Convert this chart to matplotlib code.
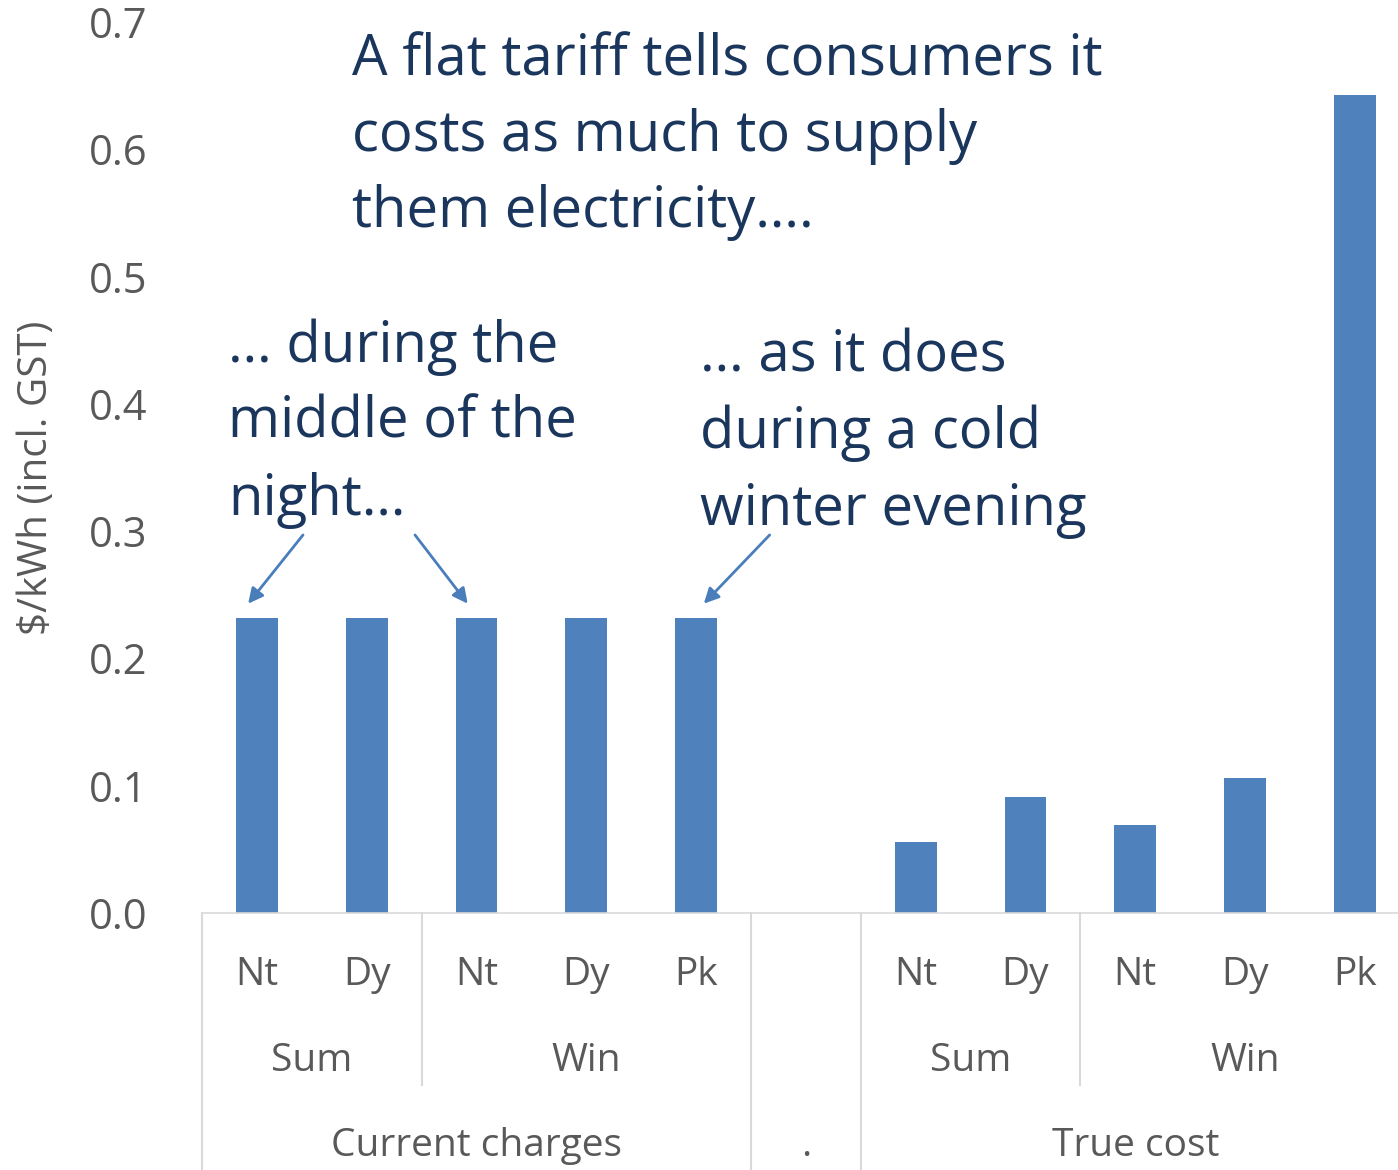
import matplotlib
matplotlib.use("Agg")
import matplotlib.pyplot as plt
import matplotlib.transforms as mtransforms
import numpy as np

# ---- data ----
periods = ["Nt", "Dy", "Nt", "Dy", "Pk", "", "Nt", "Dy", "Nt", "Dy", "Pk"]
seasons = ["Sum", "Win", "", "Sum", "Win"]
season_spans = [(0, 1), (2, 4), (5, 5), (6, 7), (8, 10)]
groups = ["Current charges", ".", "True cost"]
group_spans = [(0, 4), (5, 5), (6, 10)]
current_charges = [0.232, 0.232, 0.232, 0.232, 0.232]
true_cost = [0.056, 0.091, 0.069, 0.106, 0.643]
values = current_charges + [np.nan] + true_cost
yticks = [0.0, 0.1, 0.2, 0.3, 0.4, 0.5, 0.6, 0.7]

W, H = 1398, 1170
BAR = "#4F81BD"
GRAY = "#595959"
LINE = "#D9D9D9"
NAVY = "#1B365D"
FONT = "Open Sans"

plt.rcParams["font.family"] = [FONT, "DejaVu Sans"]

fig = plt.figure(figsize=(W / 100, H / 100), dpi=100)
ax = fig.add_axes([202 / W, 1 - 913 / H, (W - 202) / W, 891 / H])

x = np.arange(len(values))
ax.bar(x, values, width=0.38, color=BAR, zorder=2)
ax.set_xlim(-0.5, -0.5 + (W - 202) / 109.8)
ax.set_ylim(0, 0.7)

ax.set_yticks(yticks)
ax.set_yticklabels([f"{v:.1f}" for v in yticks])
ax.tick_params(axis="y", length=0, pad=39, labelsize=30, labelcolor=GRAY)
ax.set_xticks([])
for s in ["top", "right", "left"]:
    ax.spines[s].set_visible(False)
ax.spines["bottom"].set_color(LINE)
ax.spines["bottom"].set_linewidth(1.2)

fig.text(37 / W, 1 - 478 / H, "$/kWh (incl. GST)", rotation=90, ha="center",
         va="center", fontsize=29, color=GRAY)

# multi-level category axis
trans = mtransforms.blended_transform_factory(ax.transData, ax.transAxes)
y_p = (913 - 975) / 891
y_s = (913 - 1061) / 891
y_g = (913 - 1146) / 891
y_full = (913 - 1175) / 891
y_mid = (913 - 1085) / 891

for xi, lab in zip(x, periods):
    if lab:
        ax.text(xi, y_p, lab, transform=trans, ha="center", va="center",
                fontsize=28, color=GRAY)
for (a, b), lab in zip(season_spans, seasons):
    if lab:
        ax.text((a + b) / 2, y_s, lab, transform=trans, ha="center", va="center",
                fontsize=28, color=GRAY)
for (a, b), lab in zip(group_spans, groups):
    ax.text((a + b) / 2, y_g, lab, transform=trans, ha="center", va="center",
            fontsize=28, color=GRAY)

# separators
for (a, b) in group_spans:
    ax.plot([a - 0.5, a - 0.5], [0, y_full], transform=trans, color=LINE,
            lw=1.5, clip_on=False)
for (a, b), lab in zip(season_spans, seasons):
    if lab and (a, b) not in [(0, 1), (6, 7)]:
        ax.plot([a - 0.5, a - 0.5], [0, y_mid], transform=trans, color=LINE,
                lw=1.5, clip_on=False)

# annotation text
def fpx(px, py):
    return px / W, 1 - py / H

blocks = [
    (352, [75, 151, 227], ["A flat tariff tells consumers it",
                           "costs as much to supply",
                           "them electricity…."]),
    (228, [362, 438, 515], ["… during the", "middle of the", "night…"]),
    (700, [372, 448, 525], ["… as it does", "during a cold", "winter evening"]),
]
for px, bys, lines in blocks:
    for by, line in zip(bys, lines):
        fx, fy = fpx(px, by)
        fig.text(fx, fy, line, ha="left", va="baseline", fontsize=40.5,
                 color=NAVY)

# arrows (data coords relative to bars)
arrow_kw = dict(arrowstyle="-|>,head_length=0.9,head_width=0.45",
                color="#4A7EBB", lw=2, shrinkA=0, shrinkB=0)
top = current_charges[0]
ax.annotate("", xy=(-0.08, top + 0.011), xytext=(0.42, top + 0.065),
            arrowprops=arrow_kw, annotation_clip=False)
ax.annotate("", xy=(1.92, top + 0.011), xytext=(1.44, top + 0.065),
            arrowprops=arrow_kw, annotation_clip=False)
ax.annotate("", xy=(4.07, top + 0.011), xytext=(4.67, top + 0.065),
            arrowprops=arrow_kw, annotation_clip=False)

fig.savefig("out.png", dpi=100, facecolor="white")
